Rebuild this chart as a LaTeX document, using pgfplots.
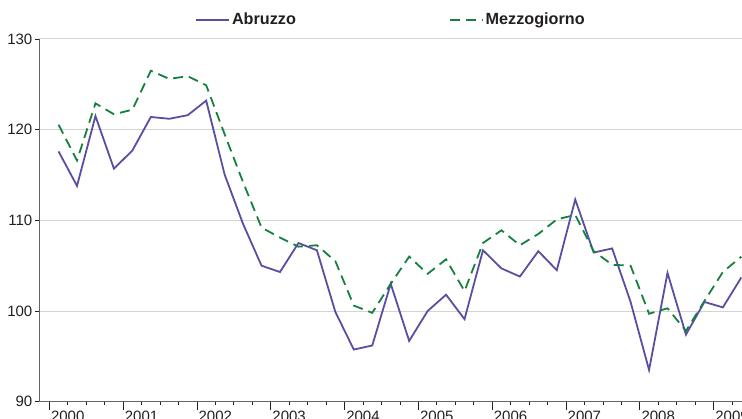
\documentclass[border=0pt]{standalone}
\usepackage{fontspec}
\setmainfont{Liberation Sans}
\usepackage{pgfplots}
\usepackage{pgfplotstable}
\pgfplotsset{compat=1.18}
\definecolor{abr}{RGB}{90,78,162}
\definecolor{mez}{RGB}{22,128,64}
\definecolor{gridc}{RGB}{212,212,212}
\definecolor{axc}{RGB}{100,100,100}
\definecolor{txt}{RGB}{35,31,32}
\pgfplotstableread{
i abr mez
0 117.6 120.55
1 113.8 116.6
2 121.5 122.9
3 115.7 121.7
4 117.7 122.2
5 121.4 126.5
6 121.2 125.6
7 121.6 125.9
8 123.2 124.9
9 115.05 119.5
10 109.6 114.2
11 105.0 109.2
12 104.3 108.1
13 107.5 107.1
14 106.7 107.25
15 99.9 105.5
16 95.75 100.6
17 96.2 99.8
18 103.0 103.0
19 96.7 106.0
20 100.0 104.1
21 101.8 105.7
22 99.1 102.2
23 106.7 107.5
24 104.7 108.9
25 103.8 107.25
26 106.6 108.5
27 104.5 110.1
28 112.3 110.6
29 106.45 106.6
30 106.9 105.1
31 101.0 105.0
32 93.5 99.7
33 104.2 100.3
34 97.4 97.8
35 101.0 101.1
36 100.4 104.3
37 103.7 106.0
}\data
\begin{document}
\begin{tikzpicture}[x=1pt,y=1pt]
\begin{axis}[
  at={(39pt,17.3pt)}, anchor=south west,
  scale only axis, width=706pt, height=362.7pt,
  xmin=-1.06, xmax=37.2, ymin=90, ymax=130,
  axis lines=left, axis line style={-, axc, line width=1pt},
  xtick={-0.5,3.5,7.5,11.5,15.5,19.5,23.5,27.5,31.5,35.5},
  xticklabels={2000,2001,2002,2003,2004,2005,2006,2007,2008,2009},
  minor xtick={0.5,1.5,2.5,4.5,5.5,6.5,8.5,9.5,10.5,12.5,13.5,14.5,16.5,17.5,18.5,20.5,21.5,22.5,24.5,25.5,26.5,28.5,29.5,30.5,32.5,33.5,34.5,36.5},
  ytick={90,100,110,120,130},
  tick align=outside, major tick length=8pt, minor tick length=3.5pt,
  ytick style={/pgfplots/major tick length=4pt},
  tick style={txt, line width=0.8pt},
  ymajorgrids, grid style={gridc, line width=1pt},
  /pgf/number format/assume math mode=true,
  tick label style={font=\fontsize{15}{17}\selectfont, text=txt},
  xticklabel style={anchor=north west, inner sep=0pt, xshift=1.5pt, yshift=-1pt},
  yticklabel style={anchor=east, inner sep=0pt, xshift=1.5pt},
  legend columns=2,
  legend style={at={(0.4985,1.053)}, anchor=center, draw=none, fill=none,
    font=\fontsize{16.2}{18}\selectfont\bfseries, text=txt,
    /tikz/every even column/.append style={column sep=151pt}},
  legend image code/.code={\draw[#1] (0pt,0pt) -- (33pt,0pt);},
]
\addplot[abr, line width=1.8pt] table[x=i, y=abr] {\data};
\addlegendentry{Abruzzo}
\addplot[mez, line width=1.8pt, dash pattern=on 10pt off 6pt] table[x=i, y=mez] {\data};
\addlegendentry{Mezzogiorno}
\end{axis}
\pgfresetboundingbox
\path[use as bounding box] (0,0) rectangle (742,419);
\end{tikzpicture}
\end{document}
